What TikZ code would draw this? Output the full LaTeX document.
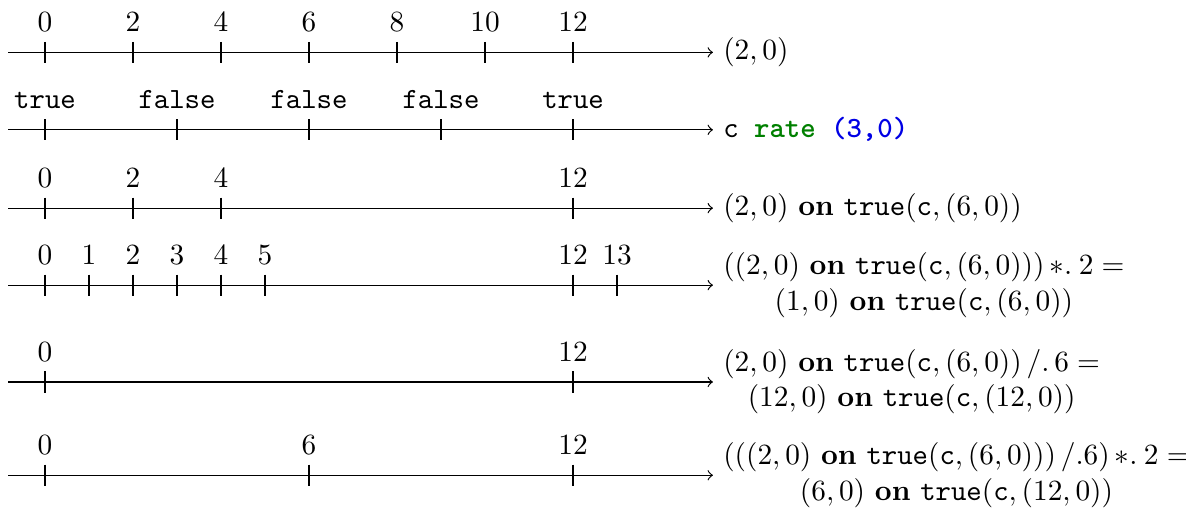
\documentclass[tikz,border=0pt]{standalone}
\usepackage{tikz}
\usetikzlibrary{arrows}

\begin{document}
\begin{tikzpicture}[x=15pt,y=-15pt]

  \tikzstyle{axis}=[->]
  \tikzstyle{tick}=[]
  \tikzstyle{val}=[above]
  \tikzstyle{lbl}=[anchor=west,align=center]

  \useasboundingbox (-1.023,0) rectangle (25.93,11.68);

  %% \draw [help lines] (-1,0) grid (26,12);

  % axis starts
  \coordinate (s1) at (-0.84,1.19);
  \coordinate (s2) at (-0.84,2.95);
  \coordinate (s3) at (-0.84,4.73);
  \coordinate (s4) at (-0.84,6.48);
  \coordinate (s5) at (-0.84,8.68);
  \coordinate (s6) at (-0.84,10.80);

  % row labels
  \node (l1) at (15.18,1.19)  [lbl] {$(2,0)$};
  \node (l2) at (15.18,2.95)  [lbl] {\texttt{c \textbf{\color{green!50!black}rate} \textbf{\color{blue!90!black}(3,0)}}};
  \node (l3) at (15.18,4.73)  [lbl] {$(2,0)$ \textbf{on} \texttt{true}$(\texttt{c},(6,0))$};
  \node (l4) at (15.18,6.48)  [lbl] {$((2,0)$ \textbf{on} \texttt{true}$(\texttt{c},(6,0)))\,{*.}\:2 =$\\
                                      $(1,0)$ \textbf{on} \texttt{true}$(\texttt{c},(6,0))$};
  \node (l5) at (15.18,8.68)  [lbl] {$(2,0)$ \textbf{on} \texttt{true}$(\texttt{c},(6,0))\,{/.}\,6 =$\\
                                      $(12,0)$ \textbf{on} \texttt{true}$(\texttt{c},(12,0))$};
  \node (l6) at (15.18,10.80) [lbl] {$(((2,0)$ \textbf{on} \texttt{true}$(\texttt{c},(6,0)))\,{/.}6)\,{*.}\:2 =$\\
                                      $(6,0)$ \textbf{on} \texttt{true}$(\texttt{c},(12,0))$};

  \draw [axis] (s1) -- (l1);
  \draw [axis] (s2) -- (l2);
  \draw [axis] (s3) -- (l3);
  \draw [axis] (s4) -- (l4);
  \draw [axis] (s5) -- (l5);
  \draw [axis] (s6) -- (l6);

  % ticks
  \foreach \x in {0,2,...,12}
    \draw [tick] (\x,0.95) -- (\x,1.43) node at (\x,0.95) [val] {$\x$};
  \foreach \x/\t in {0/true,3/false,6/false,9/false,12/true}
    \draw [tick] (\x,2.71) -- (\x,3.19) node at (\x,2.71) [val] {\texttt{\t}};
  \foreach \x in {0,2,4,12}
    \draw [tick] (\x,4.49) -- (\x,4.97) node at (\x,4.49) [val] {$\x$};
  \foreach \x in {0,1,...,5,12,13}
    \draw [tick] (\x,6.24) -- (\x,6.72) node at (\x,6.24) [val] {$\x$};
  \foreach \x in {0,12}
    \draw [tick] (\x,8.44) -- (\x,8.92) node at (\x,8.44) [val] {$\x$};
  \foreach \x in {0,6,12}
    \draw [tick] (\x,10.56) -- (\x,11.04) node at (\x,10.56) [val] {$\x$};

\end{tikzpicture}
\end{document}
